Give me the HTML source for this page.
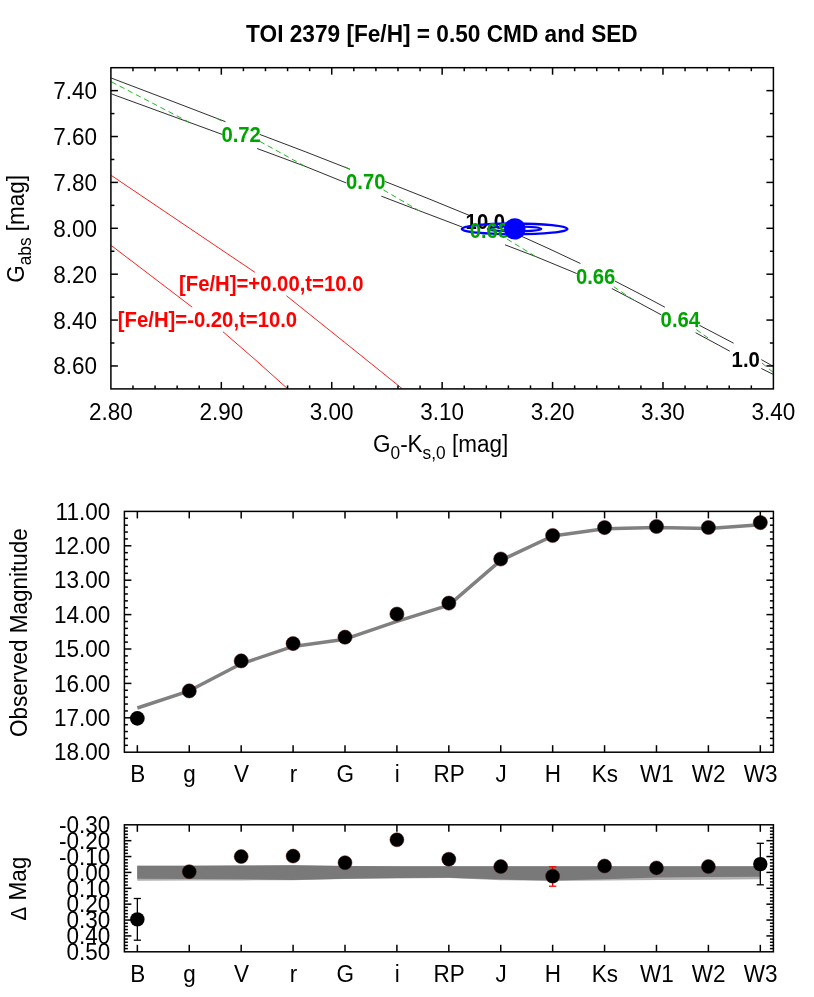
<!DOCTYPE html>
<html><head><meta charset="utf-8"><title>TOI 2379 CMD and SED</title>
<style>html,body{margin:0;padding:0;background:#fff;}svg{display:block;will-change:transform;font-family:'Liberation Sans', sans-serif;}</style>
</head><body>
<svg width="814" height="997" viewBox="0 0 814 997">
<rect x="0" y="0" width="814" height="997" fill="#fff"/>
<polyline points="111.40,78.10 170.00,100.40 225.50,121.70" fill="none" stroke="#303030" stroke-width="1.0" />
<polyline points="259.70,134.40 305.00,151.60 349.90,169.20" fill="none" stroke="#303030" stroke-width="1.0" />
<polyline points="385.10,181.50 430.00,199.30 470.80,216.00" fill="none" stroke="#303030" stroke-width="1.0" />
<polyline points="520.00,235.60 550.00,249.20 580.40,263.50" fill="none" stroke="#303030" stroke-width="1.0" />
<polyline points="614.90,281.00 640.00,294.00 664.90,307.20" fill="none" stroke="#303030" stroke-width="1.0" />
<polyline points="699.40,325.30 733.60,343.20" fill="none" stroke="#303030" stroke-width="1.0" />
<polyline points="761.30,359.60 773.00,366.20" fill="none" stroke="#303030" stroke-width="1.0" />
<polyline points="111.40,93.90 170.00,115.30 222.50,134.50" fill="none" stroke="#303030" stroke-width="1.0" />
<polyline points="257.10,148.50 304.80,166.20 346.40,183.00" fill="none" stroke="#303030" stroke-width="1.0" />
<polyline points="381.40,196.20 418.70,210.50 462.40,227.10" fill="none" stroke="#303030" stroke-width="1.0" />
<polyline points="505.00,244.80 535.80,256.60 576.70,273.50" fill="none" stroke="#303030" stroke-width="1.0" />
<polyline points="611.80,288.50 634.30,300.30 661.40,314.90" fill="none" stroke="#303030" stroke-width="1.0" />
<polyline points="695.60,332.70 729.80,351.20" fill="none" stroke="#303030" stroke-width="1.0" />
<polyline points="761.30,368.50 773.00,374.30" fill="none" stroke="#303030" stroke-width="1.0" />
<polyline points="111.40,81.80 189.30,122.30" fill="none" stroke="#14b414" stroke-width="0.95" stroke-dasharray="5.5 3.7"/>
<polyline points="216.80,118.50 225.00,122.50" fill="none" stroke="#14b414" stroke-width="0.95" stroke-dasharray="5.5 3.7"/>
<polyline points="259.70,141.30 304.80,166.20" fill="none" stroke="#14b414" stroke-width="0.95" stroke-dasharray="5.5 3.7"/>
<polyline points="345.00,166.80 350.00,169.50" fill="none" stroke="#14b414" stroke-width="0.95" stroke-dasharray="5.5 3.7"/>
<polyline points="383.40,189.90 418.70,210.50" fill="none" stroke="#14b414" stroke-width="0.95" stroke-dasharray="5.5 3.7"/>
<polyline points="507.00,239.00 535.60,256.50" fill="none" stroke="#14b414" stroke-width="0.95" stroke-dasharray="5.5 3.7"/>
<polyline points="613.70,286.70 634.00,300.30" fill="none" stroke="#14b414" stroke-width="0.95" stroke-dasharray="5.5 3.7"/>
<polyline points="696.20,329.50 710.90,340.00" fill="none" stroke="#14b414" stroke-width="0.95" stroke-dasharray="5.5 3.7"/>
<polyline points="761.90,363.00 773.00,372.20" fill="none" stroke="#14b414" stroke-width="0.95" stroke-dasharray="5.5 3.7"/>
<polyline points="111.40,175.50 180.00,221.80 254.90,272.30" fill="none" stroke="#ff2020" stroke-width="1.0" />
<polyline points="286.50,295.80 344.70,342.40 402.00,388.50" fill="none" stroke="#ff2020" stroke-width="1.0" />
<polyline points="111.40,245.60 150.00,275.00 192.20,307.20" fill="none" stroke="#ff2020" stroke-width="1.0" />
<polyline points="222.90,331.70 255.00,359.50 287.30,388.50" fill="none" stroke="#ff2020" stroke-width="1.0" />
<text transform="translate(465.60,229.10) scale(1,1.07)" font-size="20.3" text-anchor="start" fill="#000" font-weight="bold" >10.0</text>
<text transform="translate(731.60,366.90) scale(1,1.07)" font-size="20.3" text-anchor="start" fill="#000" font-weight="bold" >1.0</text>
<ellipse cx="514.6" cy="228.9" rx="52.8" ry="5.4" fill="none" stroke="#0000ff" stroke-width="2.3"/>
<ellipse cx="514.6" cy="228.9" rx="26.8" ry="2.4" fill="none" stroke="#0000ff" stroke-width="2.0"/>
<text transform="translate(221.40,141.80) scale(1,1.07)" font-size="20.3" text-anchor="start" fill="#00a400" font-weight="bold" >0.72</text>
<text transform="translate(346.00,189.30) scale(1,1.07)" font-size="20.3" text-anchor="start" fill="#00a400" font-weight="bold" >0.70</text>
<text transform="translate(469.70,237.60) scale(1,1.07)" font-size="20.3" text-anchor="start" fill="#00a400" font-weight="bold" >0.68</text>
<text transform="translate(575.90,284.00) scale(1,1.07)" font-size="20.3" text-anchor="start" fill="#00a400" font-weight="bold" >0.66</text>
<text transform="translate(660.60,327.30) scale(1,1.07)" font-size="20.3" text-anchor="start" fill="#00a400" font-weight="bold" >0.64</text>
<text transform="translate(179.00,291.00) scale(1,1.07)" font-size="20.3" text-anchor="start" fill="#ff0000" font-weight="bold" >[Fe/H]=+0.00,t=10.0</text>
<text transform="translate(117.80,327.00) scale(1,1.07)" font-size="20.3" text-anchor="start" fill="#ff0000" font-weight="bold" >[Fe/H]=-0.20,t=10.0</text>
<circle cx="514.8" cy="228.9" r="10.7" fill="#0000ff"/>
<rect x="110.9" y="67.7" width="662.50" height="321.20" fill="none" stroke="#000" stroke-width="1.5"/>
<line x1="132.98" y1="388.90" x2="132.98" y2="385.40" stroke="#000" stroke-width="1.5" />
<line x1="132.98" y1="67.70" x2="132.98" y2="71.20" stroke="#000" stroke-width="1.5" />
<line x1="155.07" y1="388.90" x2="155.07" y2="385.40" stroke="#000" stroke-width="1.5" />
<line x1="155.07" y1="67.70" x2="155.07" y2="71.20" stroke="#000" stroke-width="1.5" />
<line x1="177.15" y1="388.90" x2="177.15" y2="385.40" stroke="#000" stroke-width="1.5" />
<line x1="177.15" y1="67.70" x2="177.15" y2="71.20" stroke="#000" stroke-width="1.5" />
<line x1="199.23" y1="388.90" x2="199.23" y2="385.40" stroke="#000" stroke-width="1.5" />
<line x1="199.23" y1="67.70" x2="199.23" y2="71.20" stroke="#000" stroke-width="1.5" />
<line x1="221.32" y1="388.90" x2="221.32" y2="381.90" stroke="#000" stroke-width="1.5" />
<line x1="221.32" y1="67.70" x2="221.32" y2="74.70" stroke="#000" stroke-width="1.5" />
<line x1="243.40" y1="388.90" x2="243.40" y2="385.40" stroke="#000" stroke-width="1.5" />
<line x1="243.40" y1="67.70" x2="243.40" y2="71.20" stroke="#000" stroke-width="1.5" />
<line x1="265.48" y1="388.90" x2="265.48" y2="385.40" stroke="#000" stroke-width="1.5" />
<line x1="265.48" y1="67.70" x2="265.48" y2="71.20" stroke="#000" stroke-width="1.5" />
<line x1="287.57" y1="388.90" x2="287.57" y2="385.40" stroke="#000" stroke-width="1.5" />
<line x1="287.57" y1="67.70" x2="287.57" y2="71.20" stroke="#000" stroke-width="1.5" />
<line x1="309.65" y1="388.90" x2="309.65" y2="385.40" stroke="#000" stroke-width="1.5" />
<line x1="309.65" y1="67.70" x2="309.65" y2="71.20" stroke="#000" stroke-width="1.5" />
<line x1="331.73" y1="388.90" x2="331.73" y2="381.90" stroke="#000" stroke-width="1.5" />
<line x1="331.73" y1="67.70" x2="331.73" y2="74.70" stroke="#000" stroke-width="1.5" />
<line x1="353.82" y1="388.90" x2="353.82" y2="385.40" stroke="#000" stroke-width="1.5" />
<line x1="353.82" y1="67.70" x2="353.82" y2="71.20" stroke="#000" stroke-width="1.5" />
<line x1="375.90" y1="388.90" x2="375.90" y2="385.40" stroke="#000" stroke-width="1.5" />
<line x1="375.90" y1="67.70" x2="375.90" y2="71.20" stroke="#000" stroke-width="1.5" />
<line x1="397.98" y1="388.90" x2="397.98" y2="385.40" stroke="#000" stroke-width="1.5" />
<line x1="397.98" y1="67.70" x2="397.98" y2="71.20" stroke="#000" stroke-width="1.5" />
<line x1="420.07" y1="388.90" x2="420.07" y2="385.40" stroke="#000" stroke-width="1.5" />
<line x1="420.07" y1="67.70" x2="420.07" y2="71.20" stroke="#000" stroke-width="1.5" />
<line x1="442.15" y1="388.90" x2="442.15" y2="381.90" stroke="#000" stroke-width="1.5" />
<line x1="442.15" y1="67.70" x2="442.15" y2="74.70" stroke="#000" stroke-width="1.5" />
<line x1="464.23" y1="388.90" x2="464.23" y2="385.40" stroke="#000" stroke-width="1.5" />
<line x1="464.23" y1="67.70" x2="464.23" y2="71.20" stroke="#000" stroke-width="1.5" />
<line x1="486.32" y1="388.90" x2="486.32" y2="385.40" stroke="#000" stroke-width="1.5" />
<line x1="486.32" y1="67.70" x2="486.32" y2="71.20" stroke="#000" stroke-width="1.5" />
<line x1="508.40" y1="388.90" x2="508.40" y2="385.40" stroke="#000" stroke-width="1.5" />
<line x1="508.40" y1="67.70" x2="508.40" y2="71.20" stroke="#000" stroke-width="1.5" />
<line x1="530.48" y1="388.90" x2="530.48" y2="385.40" stroke="#000" stroke-width="1.5" />
<line x1="530.48" y1="67.70" x2="530.48" y2="71.20" stroke="#000" stroke-width="1.5" />
<line x1="552.57" y1="388.90" x2="552.57" y2="381.90" stroke="#000" stroke-width="1.5" />
<line x1="552.57" y1="67.70" x2="552.57" y2="74.70" stroke="#000" stroke-width="1.5" />
<line x1="574.65" y1="388.90" x2="574.65" y2="385.40" stroke="#000" stroke-width="1.5" />
<line x1="574.65" y1="67.70" x2="574.65" y2="71.20" stroke="#000" stroke-width="1.5" />
<line x1="596.73" y1="388.90" x2="596.73" y2="385.40" stroke="#000" stroke-width="1.5" />
<line x1="596.73" y1="67.70" x2="596.73" y2="71.20" stroke="#000" stroke-width="1.5" />
<line x1="618.82" y1="388.90" x2="618.82" y2="385.40" stroke="#000" stroke-width="1.5" />
<line x1="618.82" y1="67.70" x2="618.82" y2="71.20" stroke="#000" stroke-width="1.5" />
<line x1="640.90" y1="388.90" x2="640.90" y2="385.40" stroke="#000" stroke-width="1.5" />
<line x1="640.90" y1="67.70" x2="640.90" y2="71.20" stroke="#000" stroke-width="1.5" />
<line x1="662.98" y1="388.90" x2="662.98" y2="381.90" stroke="#000" stroke-width="1.5" />
<line x1="662.98" y1="67.70" x2="662.98" y2="74.70" stroke="#000" stroke-width="1.5" />
<line x1="685.07" y1="388.90" x2="685.07" y2="385.40" stroke="#000" stroke-width="1.5" />
<line x1="685.07" y1="67.70" x2="685.07" y2="71.20" stroke="#000" stroke-width="1.5" />
<line x1="707.15" y1="388.90" x2="707.15" y2="385.40" stroke="#000" stroke-width="1.5" />
<line x1="707.15" y1="67.70" x2="707.15" y2="71.20" stroke="#000" stroke-width="1.5" />
<line x1="729.23" y1="388.90" x2="729.23" y2="385.40" stroke="#000" stroke-width="1.5" />
<line x1="729.23" y1="67.70" x2="729.23" y2="71.20" stroke="#000" stroke-width="1.5" />
<line x1="751.32" y1="388.90" x2="751.32" y2="385.40" stroke="#000" stroke-width="1.5" />
<line x1="751.32" y1="67.70" x2="751.32" y2="71.20" stroke="#000" stroke-width="1.5" />
<line x1="110.90" y1="90.64" x2="117.90" y2="90.64" stroke="#000" stroke-width="1.5" />
<line x1="773.40" y1="90.64" x2="766.40" y2="90.64" stroke="#000" stroke-width="1.5" />
<line x1="110.90" y1="113.59" x2="114.40" y2="113.59" stroke="#000" stroke-width="1.5" />
<line x1="773.40" y1="113.59" x2="769.90" y2="113.59" stroke="#000" stroke-width="1.5" />
<line x1="110.90" y1="136.53" x2="117.90" y2="136.53" stroke="#000" stroke-width="1.5" />
<line x1="773.40" y1="136.53" x2="766.40" y2="136.53" stroke="#000" stroke-width="1.5" />
<line x1="110.90" y1="159.47" x2="114.40" y2="159.47" stroke="#000" stroke-width="1.5" />
<line x1="773.40" y1="159.47" x2="769.90" y2="159.47" stroke="#000" stroke-width="1.5" />
<line x1="110.90" y1="182.41" x2="117.90" y2="182.41" stroke="#000" stroke-width="1.5" />
<line x1="773.40" y1="182.41" x2="766.40" y2="182.41" stroke="#000" stroke-width="1.5" />
<line x1="110.90" y1="205.36" x2="114.40" y2="205.36" stroke="#000" stroke-width="1.5" />
<line x1="773.40" y1="205.36" x2="769.90" y2="205.36" stroke="#000" stroke-width="1.5" />
<line x1="110.90" y1="228.30" x2="117.90" y2="228.30" stroke="#000" stroke-width="1.5" />
<line x1="773.40" y1="228.30" x2="766.40" y2="228.30" stroke="#000" stroke-width="1.5" />
<line x1="110.90" y1="251.24" x2="114.40" y2="251.24" stroke="#000" stroke-width="1.5" />
<line x1="773.40" y1="251.24" x2="769.90" y2="251.24" stroke="#000" stroke-width="1.5" />
<line x1="110.90" y1="274.19" x2="117.90" y2="274.19" stroke="#000" stroke-width="1.5" />
<line x1="773.40" y1="274.19" x2="766.40" y2="274.19" stroke="#000" stroke-width="1.5" />
<line x1="110.90" y1="297.13" x2="114.40" y2="297.13" stroke="#000" stroke-width="1.5" />
<line x1="773.40" y1="297.13" x2="769.90" y2="297.13" stroke="#000" stroke-width="1.5" />
<line x1="110.90" y1="320.07" x2="117.90" y2="320.07" stroke="#000" stroke-width="1.5" />
<line x1="773.40" y1="320.07" x2="766.40" y2="320.07" stroke="#000" stroke-width="1.5" />
<line x1="110.90" y1="343.01" x2="114.40" y2="343.01" stroke="#000" stroke-width="1.5" />
<line x1="773.40" y1="343.01" x2="769.90" y2="343.01" stroke="#000" stroke-width="1.5" />
<line x1="110.90" y1="365.96" x2="117.90" y2="365.96" stroke="#000" stroke-width="1.5" />
<line x1="773.40" y1="365.96" x2="766.40" y2="365.96" stroke="#000" stroke-width="1.5" />
<text transform="translate(110.90,420.40) scale(1,1.045)" font-size="22.5" text-anchor="middle" fill="#000" font-weight="normal" >2.80</text>
<text transform="translate(221.32,420.40) scale(1,1.045)" font-size="22.5" text-anchor="middle" fill="#000" font-weight="normal" >2.90</text>
<text transform="translate(331.73,420.40) scale(1,1.045)" font-size="22.5" text-anchor="middle" fill="#000" font-weight="normal" >3.00</text>
<text transform="translate(442.15,420.40) scale(1,1.045)" font-size="22.5" text-anchor="middle" fill="#000" font-weight="normal" >3.10</text>
<text transform="translate(552.57,420.40) scale(1,1.045)" font-size="22.5" text-anchor="middle" fill="#000" font-weight="normal" >3.20</text>
<text transform="translate(662.98,420.40) scale(1,1.045)" font-size="22.5" text-anchor="middle" fill="#000" font-weight="normal" >3.30</text>
<text transform="translate(773.40,420.40) scale(1,1.045)" font-size="22.5" text-anchor="middle" fill="#000" font-weight="normal" >3.40</text>
<text transform="translate(97.00,99.14) scale(1,1.045)" font-size="22.5" text-anchor="end" fill="#000" font-weight="normal" >7.40</text>
<text transform="translate(97.00,145.03) scale(1,1.045)" font-size="22.5" text-anchor="end" fill="#000" font-weight="normal" >7.60</text>
<text transform="translate(97.00,190.91) scale(1,1.045)" font-size="22.5" text-anchor="end" fill="#000" font-weight="normal" >7.80</text>
<text transform="translate(97.00,236.80) scale(1,1.045)" font-size="22.5" text-anchor="end" fill="#000" font-weight="normal" >8.00</text>
<text transform="translate(97.00,282.69) scale(1,1.045)" font-size="22.5" text-anchor="end" fill="#000" font-weight="normal" >8.20</text>
<text transform="translate(97.00,328.57) scale(1,1.045)" font-size="22.5" text-anchor="end" fill="#000" font-weight="normal" >8.40</text>
<text transform="translate(97.00,374.46) scale(1,1.045)" font-size="22.5" text-anchor="end" fill="#000" font-weight="normal" >8.60</text>
<text transform="translate(441.90,42.15) scale(1,1.07)" font-size="22.66" text-anchor="middle" fill="#000" font-weight="bold" >TOI 2379 [Fe/H] = 0.50 CMD and SED</text>
<text transform="translate(440.6,452.4) scale(1,1.045)" font-size="22.5" text-anchor="middle">G<tspan font-size="17.32" dy="6.0">0</tspan><tspan dy="-6.0">-K</tspan><tspan font-size="17.32" dy="6.0">s,0</tspan><tspan dy="-6.0"> [mag]</tspan></text>
<text transform="translate(23.8,228.9) rotate(-90) scale(1,1.045)" font-size="22.5" text-anchor="middle">G<tspan font-size="17.32" dy="6.5">abs</tspan><tspan dy="-6.5"> [mag]</tspan></text>
<polyline points="137.35,708.00 189.26,690.80 241.18,663.80 293.09,646.40 345.00,639.20 396.91,621.40 448.83,605.10 500.74,560.40 552.65,536.00 604.57,528.80 656.48,527.50 708.39,528.50 760.31,524.80" fill="none" stroke="#808080" stroke-width="3.5" stroke-linejoin="round"/>
<circle cx="137.35" cy="718.40" r="7.3" fill="#000"/>
<circle cx="189.26" cy="690.90" r="7.1" fill="#000" stroke="#501010" stroke-width="0.5"/>
<circle cx="241.18" cy="660.90" r="7.1" fill="#000" stroke="#501010" stroke-width="0.5"/>
<circle cx="293.09" cy="643.60" r="7.1" fill="#000" stroke="#501010" stroke-width="0.5"/>
<circle cx="345.00" cy="637.20" r="7.1" fill="#000" stroke="#501010" stroke-width="0.5"/>
<circle cx="396.91" cy="614.10" r="7.1" fill="#000" stroke="#501010" stroke-width="0.5"/>
<circle cx="448.83" cy="603.10" r="7.1" fill="#000" stroke="#501010" stroke-width="0.5"/>
<circle cx="500.74" cy="559.00" r="7.1" fill="#000" stroke="#501010" stroke-width="0.5"/>
<circle cx="552.65" cy="535.50" r="7.1" fill="#000" stroke="#501010" stroke-width="0.5"/>
<circle cx="604.57" cy="527.60" r="7.1" fill="#000" stroke="#501010" stroke-width="0.5"/>
<circle cx="656.48" cy="526.50" r="7.1" fill="#000" stroke="#501010" stroke-width="0.5"/>
<circle cx="708.39" cy="527.50" r="7.1" fill="#000" stroke="#501010" stroke-width="0.5"/>
<circle cx="760.31" cy="522.60" r="7.1" fill="#000" stroke="#501010" stroke-width="0.5"/>
<rect x="124.4" y="511.4" width="649.00" height="240.80" fill="none" stroke="#000" stroke-width="1.5"/>
<line x1="137.35" y1="752.20" x2="137.35" y2="745.20" stroke="#000" stroke-width="1.5" />
<line x1="137.35" y1="511.40" x2="137.35" y2="518.40" stroke="#000" stroke-width="1.5" />
<line x1="189.26" y1="752.20" x2="189.26" y2="745.20" stroke="#000" stroke-width="1.5" />
<line x1="189.26" y1="511.40" x2="189.26" y2="518.40" stroke="#000" stroke-width="1.5" />
<line x1="241.18" y1="752.20" x2="241.18" y2="745.20" stroke="#000" stroke-width="1.5" />
<line x1="241.18" y1="511.40" x2="241.18" y2="518.40" stroke="#000" stroke-width="1.5" />
<line x1="293.09" y1="752.20" x2="293.09" y2="745.20" stroke="#000" stroke-width="1.5" />
<line x1="293.09" y1="511.40" x2="293.09" y2="518.40" stroke="#000" stroke-width="1.5" />
<line x1="345.00" y1="752.20" x2="345.00" y2="745.20" stroke="#000" stroke-width="1.5" />
<line x1="345.00" y1="511.40" x2="345.00" y2="518.40" stroke="#000" stroke-width="1.5" />
<line x1="396.91" y1="752.20" x2="396.91" y2="745.20" stroke="#000" stroke-width="1.5" />
<line x1="396.91" y1="511.40" x2="396.91" y2="518.40" stroke="#000" stroke-width="1.5" />
<line x1="448.83" y1="752.20" x2="448.83" y2="745.20" stroke="#000" stroke-width="1.5" />
<line x1="448.83" y1="511.40" x2="448.83" y2="518.40" stroke="#000" stroke-width="1.5" />
<line x1="500.74" y1="752.20" x2="500.74" y2="745.20" stroke="#000" stroke-width="1.5" />
<line x1="500.74" y1="511.40" x2="500.74" y2="518.40" stroke="#000" stroke-width="1.5" />
<line x1="552.65" y1="752.20" x2="552.65" y2="745.20" stroke="#000" stroke-width="1.5" />
<line x1="552.65" y1="511.40" x2="552.65" y2="518.40" stroke="#000" stroke-width="1.5" />
<line x1="604.57" y1="752.20" x2="604.57" y2="745.20" stroke="#000" stroke-width="1.5" />
<line x1="604.57" y1="511.40" x2="604.57" y2="518.40" stroke="#000" stroke-width="1.5" />
<line x1="656.48" y1="752.20" x2="656.48" y2="745.20" stroke="#000" stroke-width="1.5" />
<line x1="656.48" y1="511.40" x2="656.48" y2="518.40" stroke="#000" stroke-width="1.5" />
<line x1="708.39" y1="752.20" x2="708.39" y2="745.20" stroke="#000" stroke-width="1.5" />
<line x1="708.39" y1="511.40" x2="708.39" y2="518.40" stroke="#000" stroke-width="1.5" />
<line x1="760.31" y1="752.20" x2="760.31" y2="745.20" stroke="#000" stroke-width="1.5" />
<line x1="760.31" y1="511.40" x2="760.31" y2="518.40" stroke="#000" stroke-width="1.5" />
<line x1="124.40" y1="518.28" x2="127.90" y2="518.28" stroke="#000" stroke-width="1.5" />
<line x1="773.40" y1="518.28" x2="769.90" y2="518.28" stroke="#000" stroke-width="1.5" />
<line x1="124.40" y1="525.16" x2="127.90" y2="525.16" stroke="#000" stroke-width="1.5" />
<line x1="773.40" y1="525.16" x2="769.90" y2="525.16" stroke="#000" stroke-width="1.5" />
<line x1="124.40" y1="532.04" x2="127.90" y2="532.04" stroke="#000" stroke-width="1.5" />
<line x1="773.40" y1="532.04" x2="769.90" y2="532.04" stroke="#000" stroke-width="1.5" />
<line x1="124.40" y1="538.92" x2="127.90" y2="538.92" stroke="#000" stroke-width="1.5" />
<line x1="773.40" y1="538.92" x2="769.90" y2="538.92" stroke="#000" stroke-width="1.5" />
<line x1="124.40" y1="545.80" x2="131.40" y2="545.80" stroke="#000" stroke-width="1.5" />
<line x1="773.40" y1="545.80" x2="766.40" y2="545.80" stroke="#000" stroke-width="1.5" />
<line x1="124.40" y1="552.68" x2="127.90" y2="552.68" stroke="#000" stroke-width="1.5" />
<line x1="773.40" y1="552.68" x2="769.90" y2="552.68" stroke="#000" stroke-width="1.5" />
<line x1="124.40" y1="559.56" x2="127.90" y2="559.56" stroke="#000" stroke-width="1.5" />
<line x1="773.40" y1="559.56" x2="769.90" y2="559.56" stroke="#000" stroke-width="1.5" />
<line x1="124.40" y1="566.44" x2="127.90" y2="566.44" stroke="#000" stroke-width="1.5" />
<line x1="773.40" y1="566.44" x2="769.90" y2="566.44" stroke="#000" stroke-width="1.5" />
<line x1="124.40" y1="573.32" x2="127.90" y2="573.32" stroke="#000" stroke-width="1.5" />
<line x1="773.40" y1="573.32" x2="769.90" y2="573.32" stroke="#000" stroke-width="1.5" />
<line x1="124.40" y1="580.20" x2="131.40" y2="580.20" stroke="#000" stroke-width="1.5" />
<line x1="773.40" y1="580.20" x2="766.40" y2="580.20" stroke="#000" stroke-width="1.5" />
<line x1="124.40" y1="587.08" x2="127.90" y2="587.08" stroke="#000" stroke-width="1.5" />
<line x1="773.40" y1="587.08" x2="769.90" y2="587.08" stroke="#000" stroke-width="1.5" />
<line x1="124.40" y1="593.96" x2="127.90" y2="593.96" stroke="#000" stroke-width="1.5" />
<line x1="773.40" y1="593.96" x2="769.90" y2="593.96" stroke="#000" stroke-width="1.5" />
<line x1="124.40" y1="600.84" x2="127.90" y2="600.84" stroke="#000" stroke-width="1.5" />
<line x1="773.40" y1="600.84" x2="769.90" y2="600.84" stroke="#000" stroke-width="1.5" />
<line x1="124.40" y1="607.72" x2="127.90" y2="607.72" stroke="#000" stroke-width="1.5" />
<line x1="773.40" y1="607.72" x2="769.90" y2="607.72" stroke="#000" stroke-width="1.5" />
<line x1="124.40" y1="614.60" x2="131.40" y2="614.60" stroke="#000" stroke-width="1.5" />
<line x1="773.40" y1="614.60" x2="766.40" y2="614.60" stroke="#000" stroke-width="1.5" />
<line x1="124.40" y1="621.48" x2="127.90" y2="621.48" stroke="#000" stroke-width="1.5" />
<line x1="773.40" y1="621.48" x2="769.90" y2="621.48" stroke="#000" stroke-width="1.5" />
<line x1="124.40" y1="628.36" x2="127.90" y2="628.36" stroke="#000" stroke-width="1.5" />
<line x1="773.40" y1="628.36" x2="769.90" y2="628.36" stroke="#000" stroke-width="1.5" />
<line x1="124.40" y1="635.24" x2="127.90" y2="635.24" stroke="#000" stroke-width="1.5" />
<line x1="773.40" y1="635.24" x2="769.90" y2="635.24" stroke="#000" stroke-width="1.5" />
<line x1="124.40" y1="642.12" x2="127.90" y2="642.12" stroke="#000" stroke-width="1.5" />
<line x1="773.40" y1="642.12" x2="769.90" y2="642.12" stroke="#000" stroke-width="1.5" />
<line x1="124.40" y1="649.00" x2="131.40" y2="649.00" stroke="#000" stroke-width="1.5" />
<line x1="773.40" y1="649.00" x2="766.40" y2="649.00" stroke="#000" stroke-width="1.5" />
<line x1="124.40" y1="655.88" x2="127.90" y2="655.88" stroke="#000" stroke-width="1.5" />
<line x1="773.40" y1="655.88" x2="769.90" y2="655.88" stroke="#000" stroke-width="1.5" />
<line x1="124.40" y1="662.76" x2="127.90" y2="662.76" stroke="#000" stroke-width="1.5" />
<line x1="773.40" y1="662.76" x2="769.90" y2="662.76" stroke="#000" stroke-width="1.5" />
<line x1="124.40" y1="669.64" x2="127.90" y2="669.64" stroke="#000" stroke-width="1.5" />
<line x1="773.40" y1="669.64" x2="769.90" y2="669.64" stroke="#000" stroke-width="1.5" />
<line x1="124.40" y1="676.52" x2="127.90" y2="676.52" stroke="#000" stroke-width="1.5" />
<line x1="773.40" y1="676.52" x2="769.90" y2="676.52" stroke="#000" stroke-width="1.5" />
<line x1="124.40" y1="683.40" x2="131.40" y2="683.40" stroke="#000" stroke-width="1.5" />
<line x1="773.40" y1="683.40" x2="766.40" y2="683.40" stroke="#000" stroke-width="1.5" />
<line x1="124.40" y1="690.28" x2="127.90" y2="690.28" stroke="#000" stroke-width="1.5" />
<line x1="773.40" y1="690.28" x2="769.90" y2="690.28" stroke="#000" stroke-width="1.5" />
<line x1="124.40" y1="697.16" x2="127.90" y2="697.16" stroke="#000" stroke-width="1.5" />
<line x1="773.40" y1="697.16" x2="769.90" y2="697.16" stroke="#000" stroke-width="1.5" />
<line x1="124.40" y1="704.04" x2="127.90" y2="704.04" stroke="#000" stroke-width="1.5" />
<line x1="773.40" y1="704.04" x2="769.90" y2="704.04" stroke="#000" stroke-width="1.5" />
<line x1="124.40" y1="710.92" x2="127.90" y2="710.92" stroke="#000" stroke-width="1.5" />
<line x1="773.40" y1="710.92" x2="769.90" y2="710.92" stroke="#000" stroke-width="1.5" />
<line x1="124.40" y1="717.80" x2="131.40" y2="717.80" stroke="#000" stroke-width="1.5" />
<line x1="773.40" y1="717.80" x2="766.40" y2="717.80" stroke="#000" stroke-width="1.5" />
<line x1="124.40" y1="724.68" x2="127.90" y2="724.68" stroke="#000" stroke-width="1.5" />
<line x1="773.40" y1="724.68" x2="769.90" y2="724.68" stroke="#000" stroke-width="1.5" />
<line x1="124.40" y1="731.56" x2="127.90" y2="731.56" stroke="#000" stroke-width="1.5" />
<line x1="773.40" y1="731.56" x2="769.90" y2="731.56" stroke="#000" stroke-width="1.5" />
<line x1="124.40" y1="738.44" x2="127.90" y2="738.44" stroke="#000" stroke-width="1.5" />
<line x1="773.40" y1="738.44" x2="769.90" y2="738.44" stroke="#000" stroke-width="1.5" />
<line x1="124.40" y1="745.32" x2="127.90" y2="745.32" stroke="#000" stroke-width="1.5" />
<line x1="773.40" y1="745.32" x2="769.90" y2="745.32" stroke="#000" stroke-width="1.5" />
<text transform="translate(110.20,519.60) scale(1,1.045)" font-size="22.5" text-anchor="end" fill="#000" font-weight="normal" >11.00</text>
<text transform="translate(110.20,554.00) scale(1,1.045)" font-size="22.5" text-anchor="end" fill="#000" font-weight="normal" >12.00</text>
<text transform="translate(110.20,588.40) scale(1,1.045)" font-size="22.5" text-anchor="end" fill="#000" font-weight="normal" >13.00</text>
<text transform="translate(110.20,622.80) scale(1,1.045)" font-size="22.5" text-anchor="end" fill="#000" font-weight="normal" >14.00</text>
<text transform="translate(110.20,657.20) scale(1,1.045)" font-size="22.5" text-anchor="end" fill="#000" font-weight="normal" >15.00</text>
<text transform="translate(110.20,691.60) scale(1,1.045)" font-size="22.5" text-anchor="end" fill="#000" font-weight="normal" >16.00</text>
<text transform="translate(110.20,726.00) scale(1,1.045)" font-size="22.5" text-anchor="end" fill="#000" font-weight="normal" >17.00</text>
<text transform="translate(110.20,760.40) scale(1,1.045)" font-size="22.5" text-anchor="end" fill="#000" font-weight="normal" >18.00</text>
<text transform="translate(137.65,782.30) scale(1,1.045)" font-size="22.5" text-anchor="middle" fill="#000" font-weight="normal" >B</text>
<text transform="translate(189.56,782.30) scale(1,1.045)" font-size="22.5" text-anchor="middle" fill="#000" font-weight="normal" >g</text>
<text transform="translate(241.48,782.30) scale(1,1.045)" font-size="22.5" text-anchor="middle" fill="#000" font-weight="normal" >V</text>
<text transform="translate(293.39,782.30) scale(1,1.045)" font-size="22.5" text-anchor="middle" fill="#000" font-weight="normal" >r</text>
<text transform="translate(345.30,782.30) scale(1,1.045)" font-size="22.5" text-anchor="middle" fill="#000" font-weight="normal" >G</text>
<text transform="translate(397.21,782.30) scale(1,1.045)" font-size="22.5" text-anchor="middle" fill="#000" font-weight="normal" >i</text>
<text transform="translate(449.13,782.30) scale(1,1.045)" font-size="22.5" text-anchor="middle" fill="#000" font-weight="normal" >RP</text>
<text transform="translate(501.04,782.30) scale(1,1.045)" font-size="22.5" text-anchor="middle" fill="#000" font-weight="normal" >J</text>
<text transform="translate(552.95,782.30) scale(1,1.045)" font-size="22.5" text-anchor="middle" fill="#000" font-weight="normal" >H</text>
<text transform="translate(604.87,782.30) scale(1,1.045)" font-size="22.5" text-anchor="middle" fill="#000" font-weight="normal" >Ks</text>
<text transform="translate(656.78,782.30) scale(1,1.045)" font-size="22.5" text-anchor="middle" fill="#000" font-weight="normal" >W1</text>
<text transform="translate(708.69,782.30) scale(1,1.045)" font-size="22.5" text-anchor="middle" fill="#000" font-weight="normal" >W2</text>
<text transform="translate(760.61,782.30) scale(1,1.045)" font-size="22.5" text-anchor="middle" fill="#000" font-weight="normal" >W3</text>
<text transform="translate(26.6,632.6) rotate(-90) scale(1,1.045)" font-size="22.5" text-anchor="middle">Observed Magnitude</text>
<polygon points="137.20,865.80 189.00,865.80 241.00,865.60 293.00,865.20 345.00,866.00 397.00,866.20 449.00,866.30 501.00,866.30 553.00,866.30 605.00,866.20 657.00,866.20 708.00,866.20 760.20,866.20 760.20,879.30 708.00,879.80 657.00,880.10 605.00,880.60 553.00,881.00 501.00,880.20 449.00,878.10 397.00,878.40 345.00,879.10 293.00,880.20 241.00,880.40 189.00,880.60 137.20,880.70" fill="#b0b0b0"/>
<polygon points="137.20,865.80 189.00,865.80 241.00,865.60 293.00,865.20 345.00,866.00 397.00,866.20 449.00,866.30 501.00,866.30 553.00,866.30 605.00,866.20 657.00,866.20 708.00,866.20 760.20,866.20 760.20,876.70 708.00,877.10 657.00,877.60 605.00,879.20 553.00,880.50 501.00,879.60 449.00,877.70 397.00,878.00 345.00,878.70 293.00,879.90 241.00,879.30 189.00,878.90 137.20,878.70" fill="#797979"/>
<line x1="137.35" y1="898.50" x2="137.35" y2="940.20" stroke="#000" stroke-width="1.3" />
<line x1="133.75" y1="898.50" x2="140.95" y2="898.50" stroke="#000" stroke-width="1.3" />
<line x1="133.75" y1="940.20" x2="140.95" y2="940.20" stroke="#000" stroke-width="1.3" />
<line x1="552.65" y1="866.80" x2="552.65" y2="886.20" stroke="#ff0000" stroke-width="1.3" />
<line x1="549.05" y1="866.80" x2="556.25" y2="866.80" stroke="#ff0000" stroke-width="1.3" />
<line x1="549.05" y1="886.20" x2="556.25" y2="886.20" stroke="#ff0000" stroke-width="1.3" />
<line x1="760.31" y1="843.30" x2="760.31" y2="884.80" stroke="#000" stroke-width="1.3" />
<line x1="756.71" y1="843.30" x2="763.91" y2="843.30" stroke="#000" stroke-width="1.3" />
<line x1="756.71" y1="884.80" x2="763.91" y2="884.80" stroke="#000" stroke-width="1.3" />
<circle cx="137.35" cy="919.40" r="7.2" fill="#000"/>
<circle cx="189.26" cy="871.70" r="7.0" fill="#000" stroke="#501010" stroke-width="0.5"/>
<circle cx="241.18" cy="856.60" r="7.0" fill="#000" stroke="#501010" stroke-width="0.5"/>
<circle cx="293.09" cy="856.10" r="7.0" fill="#000" stroke="#501010" stroke-width="0.5"/>
<circle cx="345.00" cy="862.70" r="7.0" fill="#000" stroke="#501010" stroke-width="0.5"/>
<circle cx="396.91" cy="839.80" r="7.0" fill="#000" stroke="#501010" stroke-width="0.5"/>
<circle cx="448.83" cy="859.20" r="7.0" fill="#000" stroke="#501010" stroke-width="0.5"/>
<circle cx="500.74" cy="866.60" r="7.0" fill="#000" stroke="#501010" stroke-width="0.5"/>
<circle cx="552.65" cy="876.20" r="7.0" fill="#000" stroke="#501010" stroke-width="0.5"/>
<circle cx="604.57" cy="866.00" r="7.0" fill="#000" stroke="#501010" stroke-width="0.5"/>
<circle cx="656.48" cy="867.90" r="7.0" fill="#000" stroke="#501010" stroke-width="0.5"/>
<circle cx="708.39" cy="866.60" r="7.0" fill="#000" stroke="#501010" stroke-width="0.5"/>
<circle cx="760.31" cy="864.10" r="7.2" fill="#000"/>
<rect x="124.4" y="824.8" width="649.00" height="127.00" fill="none" stroke="#000" stroke-width="1.5"/>
<line x1="137.35" y1="951.80" x2="137.35" y2="944.80" stroke="#000" stroke-width="1.5" />
<line x1="137.35" y1="824.80" x2="137.35" y2="831.80" stroke="#000" stroke-width="1.5" />
<line x1="189.26" y1="951.80" x2="189.26" y2="944.80" stroke="#000" stroke-width="1.5" />
<line x1="189.26" y1="824.80" x2="189.26" y2="831.80" stroke="#000" stroke-width="1.5" />
<line x1="241.18" y1="951.80" x2="241.18" y2="944.80" stroke="#000" stroke-width="1.5" />
<line x1="241.18" y1="824.80" x2="241.18" y2="831.80" stroke="#000" stroke-width="1.5" />
<line x1="293.09" y1="951.80" x2="293.09" y2="944.80" stroke="#000" stroke-width="1.5" />
<line x1="293.09" y1="824.80" x2="293.09" y2="831.80" stroke="#000" stroke-width="1.5" />
<line x1="345.00" y1="951.80" x2="345.00" y2="944.80" stroke="#000" stroke-width="1.5" />
<line x1="345.00" y1="824.80" x2="345.00" y2="831.80" stroke="#000" stroke-width="1.5" />
<line x1="396.91" y1="951.80" x2="396.91" y2="944.80" stroke="#000" stroke-width="1.5" />
<line x1="396.91" y1="824.80" x2="396.91" y2="831.80" stroke="#000" stroke-width="1.5" />
<line x1="448.83" y1="951.80" x2="448.83" y2="944.80" stroke="#000" stroke-width="1.5" />
<line x1="448.83" y1="824.80" x2="448.83" y2="831.80" stroke="#000" stroke-width="1.5" />
<line x1="500.74" y1="951.80" x2="500.74" y2="944.80" stroke="#000" stroke-width="1.5" />
<line x1="500.74" y1="824.80" x2="500.74" y2="831.80" stroke="#000" stroke-width="1.5" />
<line x1="552.65" y1="951.80" x2="552.65" y2="944.80" stroke="#000" stroke-width="1.5" />
<line x1="552.65" y1="824.80" x2="552.65" y2="831.80" stroke="#000" stroke-width="1.5" />
<line x1="604.57" y1="951.80" x2="604.57" y2="944.80" stroke="#000" stroke-width="1.5" />
<line x1="604.57" y1="824.80" x2="604.57" y2="831.80" stroke="#000" stroke-width="1.5" />
<line x1="656.48" y1="951.80" x2="656.48" y2="944.80" stroke="#000" stroke-width="1.5" />
<line x1="656.48" y1="824.80" x2="656.48" y2="831.80" stroke="#000" stroke-width="1.5" />
<line x1="708.39" y1="951.80" x2="708.39" y2="944.80" stroke="#000" stroke-width="1.5" />
<line x1="708.39" y1="824.80" x2="708.39" y2="831.80" stroke="#000" stroke-width="1.5" />
<line x1="760.31" y1="951.80" x2="760.31" y2="944.80" stroke="#000" stroke-width="1.5" />
<line x1="760.31" y1="824.80" x2="760.31" y2="831.80" stroke="#000" stroke-width="1.5" />
<line x1="124.40" y1="827.97" x2="127.90" y2="827.97" stroke="#000" stroke-width="1.5" />
<line x1="773.40" y1="827.97" x2="769.90" y2="827.97" stroke="#000" stroke-width="1.5" />
<line x1="124.40" y1="831.15" x2="127.90" y2="831.15" stroke="#000" stroke-width="1.5" />
<line x1="773.40" y1="831.15" x2="769.90" y2="831.15" stroke="#000" stroke-width="1.5" />
<line x1="124.40" y1="834.32" x2="127.90" y2="834.32" stroke="#000" stroke-width="1.5" />
<line x1="773.40" y1="834.32" x2="769.90" y2="834.32" stroke="#000" stroke-width="1.5" />
<line x1="124.40" y1="837.50" x2="127.90" y2="837.50" stroke="#000" stroke-width="1.5" />
<line x1="773.40" y1="837.50" x2="769.90" y2="837.50" stroke="#000" stroke-width="1.5" />
<line x1="124.40" y1="840.67" x2="131.40" y2="840.67" stroke="#000" stroke-width="1.5" />
<line x1="773.40" y1="840.67" x2="766.40" y2="840.67" stroke="#000" stroke-width="1.5" />
<line x1="124.40" y1="843.85" x2="127.90" y2="843.85" stroke="#000" stroke-width="1.5" />
<line x1="773.40" y1="843.85" x2="769.90" y2="843.85" stroke="#000" stroke-width="1.5" />
<line x1="124.40" y1="847.02" x2="127.90" y2="847.02" stroke="#000" stroke-width="1.5" />
<line x1="773.40" y1="847.02" x2="769.90" y2="847.02" stroke="#000" stroke-width="1.5" />
<line x1="124.40" y1="850.20" x2="127.90" y2="850.20" stroke="#000" stroke-width="1.5" />
<line x1="773.40" y1="850.20" x2="769.90" y2="850.20" stroke="#000" stroke-width="1.5" />
<line x1="124.40" y1="853.38" x2="127.90" y2="853.38" stroke="#000" stroke-width="1.5" />
<line x1="773.40" y1="853.38" x2="769.90" y2="853.38" stroke="#000" stroke-width="1.5" />
<line x1="124.40" y1="856.55" x2="131.40" y2="856.55" stroke="#000" stroke-width="1.5" />
<line x1="773.40" y1="856.55" x2="766.40" y2="856.55" stroke="#000" stroke-width="1.5" />
<line x1="124.40" y1="859.72" x2="127.90" y2="859.72" stroke="#000" stroke-width="1.5" />
<line x1="773.40" y1="859.72" x2="769.90" y2="859.72" stroke="#000" stroke-width="1.5" />
<line x1="124.40" y1="862.90" x2="127.90" y2="862.90" stroke="#000" stroke-width="1.5" />
<line x1="773.40" y1="862.90" x2="769.90" y2="862.90" stroke="#000" stroke-width="1.5" />
<line x1="124.40" y1="866.07" x2="127.90" y2="866.07" stroke="#000" stroke-width="1.5" />
<line x1="773.40" y1="866.07" x2="769.90" y2="866.07" stroke="#000" stroke-width="1.5" />
<line x1="124.40" y1="869.25" x2="127.90" y2="869.25" stroke="#000" stroke-width="1.5" />
<line x1="773.40" y1="869.25" x2="769.90" y2="869.25" stroke="#000" stroke-width="1.5" />
<line x1="124.40" y1="872.42" x2="131.40" y2="872.42" stroke="#000" stroke-width="1.5" />
<line x1="773.40" y1="872.42" x2="766.40" y2="872.42" stroke="#000" stroke-width="1.5" />
<line x1="124.40" y1="875.60" x2="127.90" y2="875.60" stroke="#000" stroke-width="1.5" />
<line x1="773.40" y1="875.60" x2="769.90" y2="875.60" stroke="#000" stroke-width="1.5" />
<line x1="124.40" y1="878.77" x2="127.90" y2="878.77" stroke="#000" stroke-width="1.5" />
<line x1="773.40" y1="878.77" x2="769.90" y2="878.77" stroke="#000" stroke-width="1.5" />
<line x1="124.40" y1="881.95" x2="127.90" y2="881.95" stroke="#000" stroke-width="1.5" />
<line x1="773.40" y1="881.95" x2="769.90" y2="881.95" stroke="#000" stroke-width="1.5" />
<line x1="124.40" y1="885.12" x2="127.90" y2="885.12" stroke="#000" stroke-width="1.5" />
<line x1="773.40" y1="885.12" x2="769.90" y2="885.12" stroke="#000" stroke-width="1.5" />
<line x1="124.40" y1="888.30" x2="131.40" y2="888.30" stroke="#000" stroke-width="1.5" />
<line x1="773.40" y1="888.30" x2="766.40" y2="888.30" stroke="#000" stroke-width="1.5" />
<line x1="124.40" y1="891.47" x2="127.90" y2="891.47" stroke="#000" stroke-width="1.5" />
<line x1="773.40" y1="891.47" x2="769.90" y2="891.47" stroke="#000" stroke-width="1.5" />
<line x1="124.40" y1="894.65" x2="127.90" y2="894.65" stroke="#000" stroke-width="1.5" />
<line x1="773.40" y1="894.65" x2="769.90" y2="894.65" stroke="#000" stroke-width="1.5" />
<line x1="124.40" y1="897.82" x2="127.90" y2="897.82" stroke="#000" stroke-width="1.5" />
<line x1="773.40" y1="897.82" x2="769.90" y2="897.82" stroke="#000" stroke-width="1.5" />
<line x1="124.40" y1="901.00" x2="127.90" y2="901.00" stroke="#000" stroke-width="1.5" />
<line x1="773.40" y1="901.00" x2="769.90" y2="901.00" stroke="#000" stroke-width="1.5" />
<line x1="124.40" y1="904.17" x2="131.40" y2="904.17" stroke="#000" stroke-width="1.5" />
<line x1="773.40" y1="904.17" x2="766.40" y2="904.17" stroke="#000" stroke-width="1.5" />
<line x1="124.40" y1="907.35" x2="127.90" y2="907.35" stroke="#000" stroke-width="1.5" />
<line x1="773.40" y1="907.35" x2="769.90" y2="907.35" stroke="#000" stroke-width="1.5" />
<line x1="124.40" y1="910.52" x2="127.90" y2="910.52" stroke="#000" stroke-width="1.5" />
<line x1="773.40" y1="910.52" x2="769.90" y2="910.52" stroke="#000" stroke-width="1.5" />
<line x1="124.40" y1="913.70" x2="127.90" y2="913.70" stroke="#000" stroke-width="1.5" />
<line x1="773.40" y1="913.70" x2="769.90" y2="913.70" stroke="#000" stroke-width="1.5" />
<line x1="124.40" y1="916.88" x2="127.90" y2="916.88" stroke="#000" stroke-width="1.5" />
<line x1="773.40" y1="916.88" x2="769.90" y2="916.88" stroke="#000" stroke-width="1.5" />
<line x1="124.40" y1="920.05" x2="131.40" y2="920.05" stroke="#000" stroke-width="1.5" />
<line x1="773.40" y1="920.05" x2="766.40" y2="920.05" stroke="#000" stroke-width="1.5" />
<line x1="124.40" y1="923.22" x2="127.90" y2="923.22" stroke="#000" stroke-width="1.5" />
<line x1="773.40" y1="923.22" x2="769.90" y2="923.22" stroke="#000" stroke-width="1.5" />
<line x1="124.40" y1="926.40" x2="127.90" y2="926.40" stroke="#000" stroke-width="1.5" />
<line x1="773.40" y1="926.40" x2="769.90" y2="926.40" stroke="#000" stroke-width="1.5" />
<line x1="124.40" y1="929.57" x2="127.90" y2="929.57" stroke="#000" stroke-width="1.5" />
<line x1="773.40" y1="929.57" x2="769.90" y2="929.57" stroke="#000" stroke-width="1.5" />
<line x1="124.40" y1="932.75" x2="127.90" y2="932.75" stroke="#000" stroke-width="1.5" />
<line x1="773.40" y1="932.75" x2="769.90" y2="932.75" stroke="#000" stroke-width="1.5" />
<line x1="124.40" y1="935.92" x2="131.40" y2="935.92" stroke="#000" stroke-width="1.5" />
<line x1="773.40" y1="935.92" x2="766.40" y2="935.92" stroke="#000" stroke-width="1.5" />
<line x1="124.40" y1="939.10" x2="127.90" y2="939.10" stroke="#000" stroke-width="1.5" />
<line x1="773.40" y1="939.10" x2="769.90" y2="939.10" stroke="#000" stroke-width="1.5" />
<line x1="124.40" y1="942.27" x2="127.90" y2="942.27" stroke="#000" stroke-width="1.5" />
<line x1="773.40" y1="942.27" x2="769.90" y2="942.27" stroke="#000" stroke-width="1.5" />
<line x1="124.40" y1="945.45" x2="127.90" y2="945.45" stroke="#000" stroke-width="1.5" />
<line x1="773.40" y1="945.45" x2="769.90" y2="945.45" stroke="#000" stroke-width="1.5" />
<line x1="124.40" y1="948.62" x2="127.90" y2="948.62" stroke="#000" stroke-width="1.5" />
<line x1="773.40" y1="948.62" x2="769.90" y2="948.62" stroke="#000" stroke-width="1.5" />
<text transform="translate(110.20,833.00) scale(1,1.045)" font-size="22.5" text-anchor="end" fill="#000" font-weight="normal" >-0.30</text>
<text transform="translate(110.20,848.88) scale(1,1.045)" font-size="22.5" text-anchor="end" fill="#000" font-weight="normal" >-0.20</text>
<text transform="translate(110.20,864.75) scale(1,1.045)" font-size="22.5" text-anchor="end" fill="#000" font-weight="normal" >-0.10</text>
<text transform="translate(110.20,880.62) scale(1,1.045)" font-size="22.5" text-anchor="end" fill="#000" font-weight="normal" >0.00</text>
<text transform="translate(110.20,896.50) scale(1,1.045)" font-size="22.5" text-anchor="end" fill="#000" font-weight="normal" >0.10</text>
<text transform="translate(110.20,912.38) scale(1,1.045)" font-size="22.5" text-anchor="end" fill="#000" font-weight="normal" >0.20</text>
<text transform="translate(110.20,928.25) scale(1,1.045)" font-size="22.5" text-anchor="end" fill="#000" font-weight="normal" >0.30</text>
<text transform="translate(110.20,944.12) scale(1,1.045)" font-size="22.5" text-anchor="end" fill="#000" font-weight="normal" >0.40</text>
<text transform="translate(110.20,960.00) scale(1,1.045)" font-size="22.5" text-anchor="end" fill="#000" font-weight="normal" >0.50</text>
<text transform="translate(137.65,981.70) scale(1,1.045)" font-size="22.5" text-anchor="middle" fill="#000" font-weight="normal" >B</text>
<text transform="translate(189.56,981.70) scale(1,1.045)" font-size="22.5" text-anchor="middle" fill="#000" font-weight="normal" >g</text>
<text transform="translate(241.48,981.70) scale(1,1.045)" font-size="22.5" text-anchor="middle" fill="#000" font-weight="normal" >V</text>
<text transform="translate(293.39,981.70) scale(1,1.045)" font-size="22.5" text-anchor="middle" fill="#000" font-weight="normal" >r</text>
<text transform="translate(345.30,981.70) scale(1,1.045)" font-size="22.5" text-anchor="middle" fill="#000" font-weight="normal" >G</text>
<text transform="translate(397.21,981.70) scale(1,1.045)" font-size="22.5" text-anchor="middle" fill="#000" font-weight="normal" >i</text>
<text transform="translate(449.13,981.70) scale(1,1.045)" font-size="22.5" text-anchor="middle" fill="#000" font-weight="normal" >RP</text>
<text transform="translate(501.04,981.70) scale(1,1.045)" font-size="22.5" text-anchor="middle" fill="#000" font-weight="normal" >J</text>
<text transform="translate(552.95,981.70) scale(1,1.045)" font-size="22.5" text-anchor="middle" fill="#000" font-weight="normal" >H</text>
<text transform="translate(604.87,981.70) scale(1,1.045)" font-size="22.5" text-anchor="middle" fill="#000" font-weight="normal" >Ks</text>
<text transform="translate(656.78,981.70) scale(1,1.045)" font-size="22.5" text-anchor="middle" fill="#000" font-weight="normal" >W1</text>
<text transform="translate(708.69,981.70) scale(1,1.045)" font-size="22.5" text-anchor="middle" fill="#000" font-weight="normal" >W2</text>
<text transform="translate(760.61,981.70) scale(1,1.045)" font-size="22.5" text-anchor="middle" fill="#000" font-weight="normal" >W3</text>
<text transform="translate(26.4,888.6) rotate(-90) scale(1,1.045)" font-size="22.5" text-anchor="middle"><tspan font-size="20.5">&#916;</tspan> Mag</text>
</svg></body></html>
